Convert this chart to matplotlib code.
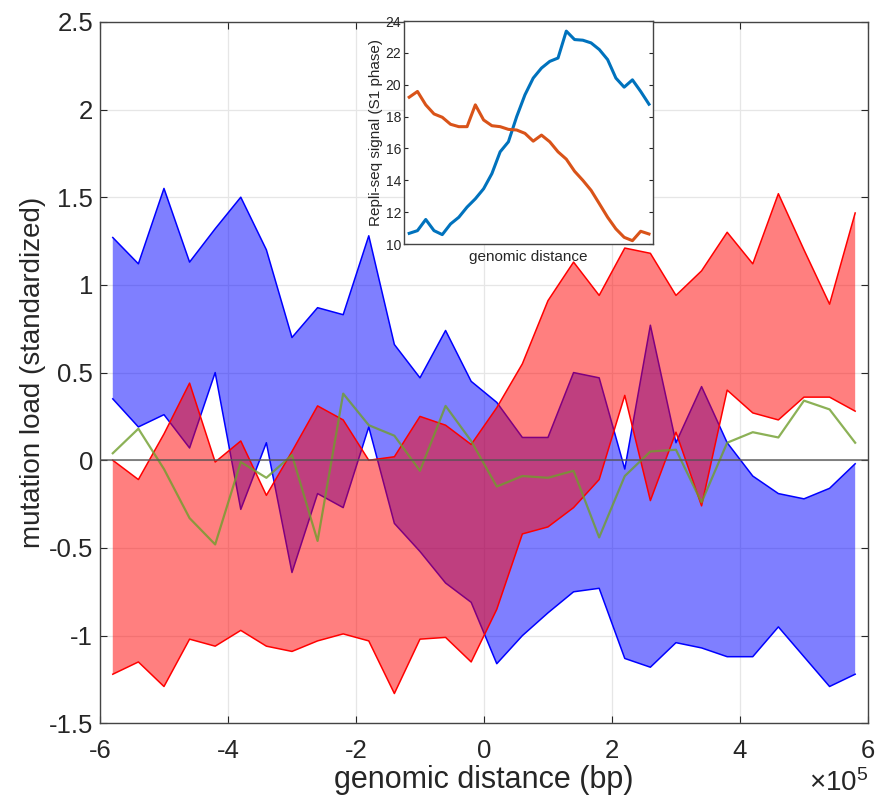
import matplotlib
matplotlib.use("Agg")
import matplotlib.pyplot as plt
import numpy as np
from matplotlib.ticker import FuncFormatter, FormatStrFormatter

plt.rcParams['font.family'] = ['Liberation Sans', 'DejaVu Sans']
plt.rcParams['axes.unicode_minus'] = False
plt.rcParams['mathtext.fontset'] = 'custom'
plt.rcParams['mathtext.rm'] = 'Liberation Sans'

# bin centres, in units of 1e5 bp
dist = [-5.8, -5.4, -5.0, -4.6, -4.2, -3.8, -3.4, -3.0, -2.6, -2.2,
        -1.8, -1.4, -1.0, -0.6, -0.2, 0.2, 0.6, 1.0, 1.4, 1.8,
        2.2, 2.6, 3.0, 3.4, 3.8, 4.2, 4.6, 5.0, 5.4, 5.8]

# blue band (upper / lower bound)
blue_hi = [1.27, 1.12, 1.55, 1.13, 1.32, 1.50, 1.20, 0.70, 0.87, 0.83,
           1.28, 0.66, 0.47, 0.74, 0.45, 0.33, 0.13, 0.13, 0.50, 0.47,
           -0.05, 0.77, 0.10, 0.42, 0.10, -0.09, -0.19, -0.22, -0.16, -0.02]
blue_lo = [0.35, 0.19, 0.26, 0.07, 0.50, -0.28, 0.10, -0.64, -0.19, -0.27,
           0.19, -0.36, -0.52, -0.70, -0.81, -1.16, -1.00, -0.87, -0.75, -0.73,
           -1.13, -1.18, -1.04, -1.07, -1.12, -1.12, -0.95, -1.12, -1.29, -1.22]

# red band (upper / lower bound)
red_hi = [0.00, -0.11, 0.15, 0.44, -0.01, 0.11, -0.20, 0.05, 0.31, 0.23,
          0.00, 0.02, 0.25, 0.20, 0.09, 0.30, 0.55, 0.91, 1.13, 0.94,
          1.21, 1.18, 0.94, 1.08, 1.30, 1.12, 1.52, 1.20, 0.89, 1.41]
red_lo = [-1.22, -1.15, -1.29, -1.02, -1.06, -0.97, -1.06, -1.09, -1.03, -0.99,
          -1.03, -1.33, -1.02, -1.01, -1.15, -0.85, -0.42, -0.38, -0.27, -0.11,
          0.37, -0.23, 0.16, -0.26, 0.40, 0.27, 0.23, 0.36, 0.36, 0.28]

# green trace
green = [0.04, 0.18, -0.05, -0.33, -0.48, -0.01, -0.10, 0.03, -0.46, 0.38,
         0.20, 0.14, -0.06, 0.31, 0.11, -0.15, -0.09, -0.10, -0.06, -0.44,
         -0.09, 0.05, 0.06, -0.24, 0.10, 0.16, 0.13, 0.34, 0.29, 0.10]

# repli-seq profiles for the inset
repli_a = [10.67, 10.84, 11.54, 10.84, 10.59, 11.26, 11.68, 12.32, 12.84, 13.47,
           14.42, 15.79, 16.42, 18.00, 19.37, 20.42, 21.05, 21.47, 21.68, 23.37,
           22.84, 22.80, 22.63, 22.21, 21.58, 20.42, 19.85, 20.31, 19.58, 18.78]
repli_b = [19.22, 19.58, 18.74, 18.17, 17.96, 17.52, 17.37, 17.37, 18.74, 17.79,
           17.43, 17.37, 17.20, 17.16, 16.95, 16.46, 16.84, 16.42, 15.79, 15.33,
           14.57, 14.00, 13.37, 12.53, 11.68, 10.95, 10.42, 10.21, 10.80, 10.63]

x = np.array(dist) * 1e5
axcol = '#262626'

fig = plt.figure(figsize=(8.77, 7.99), dpi=100)
ax = fig.add_axes([0.114, 0.0947, 0.8757, 0.878])

ax.fill_between(x, blue_lo, blue_hi, facecolor=(0, 0, 1, 0.5),
                edgecolor='none', zorder=2)
ax.plot(x, blue_hi, color='blue', lw=1.1, zorder=2)
ax.plot(x, blue_lo, color='blue', lw=1.1, zorder=2)
ax.fill_between(x, red_lo, red_hi, facecolor=(1, 0, 0, 0.5),
                edgecolor='none', zorder=3)
ax.plot(x, red_hi, color='red', lw=1.1, zorder=3)
ax.plot(x, red_lo, color='red', lw=1.1, zorder=3)
ax.plot(x, green, color='#6f9e2c', lw=1.6, alpha=0.8, zorder=4)
ax.axhline(0, color='#555555', lw=1.2, alpha=0.85, zorder=5)

ax.set_xlim(-6e5, 6e5)
ax.set_ylim(-1.5, 2.5)
ax.set_xticks([-6e5, -4e5, -2e5, 0, 2e5, 4e5, 6e5])
ax.set_yticks([-1.5, -1, -0.5, 0, 0.5, 1, 1.5, 2, 2.5])
ax.xaxis.set_major_formatter(FuncFormatter(lambda v, p: '%g' % (v / 1e5)))
ax.yaxis.set_major_formatter(FormatStrFormatter('%g'))
ax.grid(True, color='#e6e6e6', lw=0.9, zorder=0)
ax.set_axisbelow(True)
ax.tick_params(direction='in', top=True, right=True, length=5,
               labelsize=18.5, colors=axcol)
ax.tick_params(axis='y', pad=5)
ax.tick_params(axis='x', pad=11)
for s in ax.spines.values():
    s.set_color('#444444')
    s.set_linewidth(1.0)
# exponent for the x axis, bottom right
ax.text(1.0, -0.066, r'$\times\mathregular{10^5}$', transform=ax.transAxes,
        ha='right', va='top', fontsize=20, color=axcol)
ax.set_xlabel('genomic distance (bp)', fontsize=22, color=axcol, labelpad=2)
ax.set_ylabel('mutation load (standardized)', fontsize=20, color=axcol,
              labelpad=2)

# inset with the replication timing profiles
ins = fig.add_axes([0.4607, 0.6946, 0.284, 0.279])
ins.plot(dist, repli_a, color='#0072BD', lw=2.2)
ins.plot(dist, repli_b, color='#D95319', lw=2.2)
ins.set_xlim(-6.05, 6.0)
ins.set_ylim(10, 24)
ins.set_yticks([10, 12, 14, 16, 18, 20, 22, 24])
ins.set_xticks([])
ins.tick_params(direction='in', right=True, length=3, labelsize=10,
                colors=axcol, pad=2)
for s in ins.spines.values():
    s.set_color('#444444')
    s.set_linewidth(1.0)
ins.set_xlabel('genomic distance', fontsize=11, color=axcol, labelpad=4)
ins.set_ylabel('Repli-seq signal (S1 phase)', fontsize=11, color=axcol,
               labelpad=2)

fig.savefig('out.png', dpi=100)
